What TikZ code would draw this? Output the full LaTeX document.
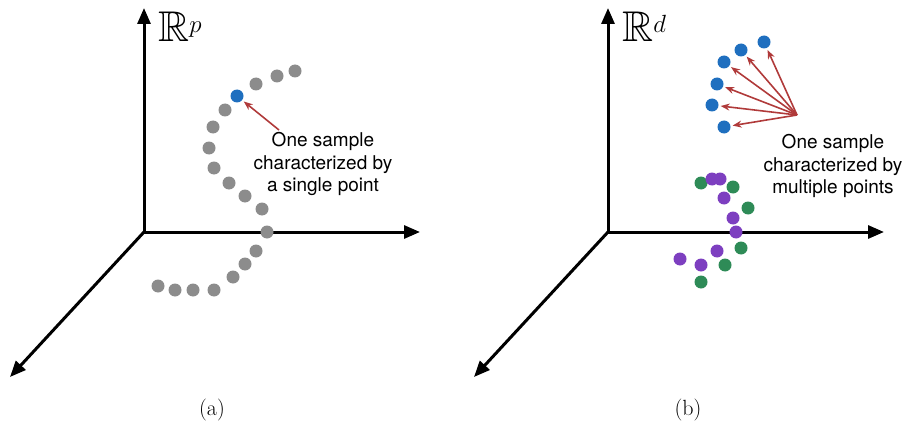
\documentclass[tikz,border=0pt]{standalone}
\usepackage{fontspec}
\setsansfont{TeX Gyre Heros}
\usepackage{amsmath,amssymb}
\usepackage{xcolor}
\usetikzlibrary{arrows.meta, calc}

\definecolor{dotgray}{HTML}{8C8C8C}
\definecolor{dotblue}{HTML}{1F6FBF}
\definecolor{dotgreen}{HTML}{2E8B57}
\definecolor{dotpurple}{HTML}{7D3FC0}
\definecolor{arrred}{HTML}{B03A3A}

\tikzset{
	axis/.style={line width=3pt, -{Triangle[length=16pt, width=13pt]}},
	pt/.style={circle, inner sep=0pt, minimum size=13pt},
	ptarrow/.style={arrred, line width=1.6pt, -{Stealth[length=9pt, width=7pt]}, shorten >=2pt},
	caption/.style={font=\sffamily\fontsize{19}{22.5}\selectfont, align=center}
}

\begin{document}
\begin{tikzpicture}[x=1pt, y=-1pt]
	\useasboundingbox (0,0) rectangle (904,425);
	% (a) one point per sample
	\coordinate (Oa) at (144,232);
	\coordinate (Ya) at (144,8);
	\coordinate (Xa) at (420,232);
	\coordinate (Za) at (10,377);
	\draw [axis] (Oa) -- (Ya);
	\draw [axis] (Oa) -- (Xa);
	\draw [axis] (Oa) -- (Za);
	\node [anchor=base west, inner sep=0pt, font=\fontsize{43}{43}\selectfont] (Rp) at (158,42) {$\mathbb{R}^p$};
	\foreach \x/\y [count=\i] in {295/71, 277/76, 256/84, 225/110, 213/127, 209/148, 214/168, 229/183, 245/196, 262/209, 267/232, 256/251, 245/264, 233/277, 214/290, 193/290, 175/290, 158/286}
		\node [pt, fill=dotgray] (g\i) at (\x,\y) {};
	\node [pt, fill=dotblue] (single) at (237,96) {};
	\coordinate (srca) at (279,130);
	\draw [ptarrow] (srca) -- (single);
	\node [caption] (capa) at (323,164) {One sample\\characterized by\\a single point};
	\node [font=\fontsize{22}{26}\selectfont] (laba) at (212,410) {(a)};
	% (b) several points per sample
	\coordinate (Ob) at (608,232);
	\coordinate (Yb) at (608,8);
	\coordinate (Xb) at (884,232);
	\coordinate (Zb) at (474,377);
	\draw [axis] (Ob) -- (Yb);
	\draw [axis] (Ob) -- (Xb);
	\draw [axis] (Ob) -- (Zb);
	\node [anchor=base west, inner sep=0pt, font=\fontsize{43}{43}\selectfont] (Rd) at (622,42) {$\mathbb{R}^d$};
	\coordinate (srcb) at (797,115);
	\foreach \x/\y [count=\i] in {764/42, 741/50, 724/62, 717/84, 712/105, 724/127}
	{
		\node [pt, fill=dotblue] (b\i) at (\x,\y) {};
		\draw [ptarrow] (srcb) -- (b\i);
	}
	\foreach \x/\y [count=\i] in {701/183, 733/187, 748/208, 741/248, 725/265, 701/282}
		\node [pt, fill=dotgreen] (gr\i) at (\x,\y) {};
	\foreach \x/\y [count=\i] in {712/179, 720/179, 724/198, 733/218, 736/232, 717/251, 680/259, 701/265}
		\node [pt, fill=dotpurple] (pu\i) at (\x,\y) {};
	\node [caption] (capb) at (833,166) {One sample\\characterized by\\multiple points};
	\node [font=\fontsize{22}{26}\selectfont] (labb) at (688,410) {(b)};
\end{tikzpicture}
\end{document}
